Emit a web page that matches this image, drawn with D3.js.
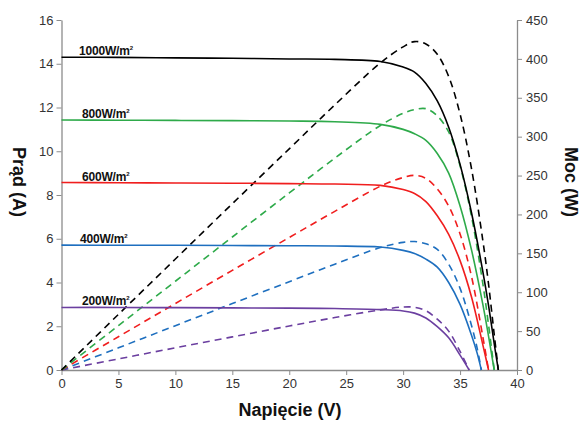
<!DOCTYPE html>
<html>
<head>
<meta charset="utf-8">
<script src="https://cdn.jsdelivr.net/npm/d3@7/dist/d3.min.js"></script>
<style>
  html, body { margin: 0; padding: 0; background: #fff; }
  svg { display: block; font-family: "Liberation Sans", Arial, sans-serif; }
</style>
</head>
<body>
<svg id="chart" width="581" height="422"></svg>
<script>
// ---- data ----
const irradianceLabels = ["1000W/m", "800W/m", "600W/m", "400W/m", "200W/m"];
const seriesColors = ["#000000", "#2eaa4a", "#f01e1e", "#1e6fbf", "#6b3fa0"];

const voltage1000 = [0, 5, 10, 15, 20, 24, 28, 30, 31, 32, 33, 34, 35, 36, 37, 37.5, 38, 38.36];
const current1000 = [14.3, 14.29, 14.27, 14.25, 14.22, 14.2, 14.1, 13.85, 13.62, 13.1, 12.3, 11.1, 9.4, 7.2, 4.5, 2.95, 1.2, 0];
const power1000   = [0, 71.5, 142.7, 213.8, 284.4, 340.8, 394.8, 415.5, 422.2, 419.2, 405.9, 377.4, 329, 259.2, 166.5, 110.6, 45.6, 0];

const voltage800 = [0, 5, 10, 15, 20, 24, 28, 30, 31, 32, 33, 34, 35, 36, 37, 37.5, 38];
const current800 = [11.43, 11.42, 11.41, 11.4, 11.38, 11.35, 11.23, 11.0, 10.8, 10.5, 9.9, 9.0, 7.5, 5.5, 3.0, 1.55, 0];
const power800   = [0, 57.1, 114.1, 171, 227.6, 272.4, 314.4, 330, 334.8, 336, 326.7, 306, 262.5, 198, 111, 58.1, 0];

const voltage600 = [0, 5, 10, 15, 20, 24, 28, 30, 31, 32, 33, 34, 35, 36, 37, 37.5];
const current600 = [8.57, 8.56, 8.55, 8.54, 8.52, 8.5, 8.44, 8.25, 8.07, 7.7, 7.05, 6.2, 5.0, 3.35, 1.15, 0];
const power600   = [0, 42.8, 85.5, 128.1, 170.4, 204, 236.3, 247.5, 250.2, 246.4, 232.7, 210.8, 175, 120.6, 42.6, 0];

const voltage400 = [0, 5, 10, 15, 20, 24, 28, 30, 31, 32, 33, 34, 35, 36, 36.5, 36.87];
const current400 = [5.71, 5.7, 5.7, 5.69, 5.68, 5.67, 5.62, 5.47, 5.33, 5.07, 4.7, 4.0, 3.0, 1.6, 0.77, 0];
const power400   = [0, 28.5, 57, 85.4, 113.6, 136.1, 157.4, 164.1, 165.2, 162.2, 155.1, 136, 105, 57.6, 28.1, 0];

const voltage200 = [0, 5, 10, 15, 20, 24, 28, 30, 31, 32, 33, 34, 35, 35.8];
const current200 = [2.86, 2.86, 2.85, 2.84, 2.83, 2.81, 2.76, 2.7, 2.6, 2.38, 1.98, 1.47, 0.68, 0];
const power200   = [0, 14.3, 28.5, 42.6, 56.6, 67.4, 77.3, 81, 80.6, 76.2, 65.3, 50, 23.8, 0];

const voltageTicks = [0, 5, 10, 15, 20, 25, 30, 35, 40];
const currentTicks = [0, 2, 4, 6, 8, 10, 12, 14, 16];
const powerTicks = [0, 50, 100, 150, 200, 250, 300, 350, 400, 450];

const xTitle = "Napięcie (V)";
const yLeftTitle = "Prąd (A)";
const yRightTitle = "Moc (W)";

// ---- build ----
const voltages = [voltage1000, voltage800, voltage600, voltage400, voltage200];
const currents = [current1000, current800, current600, current400, current200];
const powers = [power1000, power800, power600, power400, power200];

const svg = d3.select("#chart");
const x = d3.scaleLinear().domain([0, 40]).range([61.5, 517]);
const yI = d3.scaleLinear().domain([0, 16]).range([370, 20]);
const yP = d3.scaleLinear().domain([0, 450]).range([370, 20]);

const axisColor = "#8c8c8c";
const tickTextColor = "#333";

function styleAxis(g) {
  g.selectAll("path.domain").attr("stroke", axisColor).attr("stroke-width", 1.3);
  g.selectAll(".tick line").attr("stroke", axisColor).attr("stroke-width", 1);
  g.selectAll(".tick text").attr("fill", tickTextColor)
    .style("font-family", "'Liberation Sans', Arial, sans-serif").style("font-size", "13px");
}

const gx = svg.append("g").attr("transform", "translate(0,370)")
  .call(d3.axisBottom(x).tickValues(voltageTicks).tickSize(5).tickSizeOuter(0).tickPadding(4));
styleAxis(gx);

const gl = svg.append("g").attr("transform", "translate(61.5,0)")
  .call(d3.axisLeft(yI).tickValues(currentTicks).tickSize(5).tickSizeOuter(0).tickPadding(3));
styleAxis(gl);

const gr = svg.append("g").attr("transform", "translate(517,0)")
  .call(d3.axisRight(yP).tickValues(powerTicks).tickSize(5).tickSizeOuter(0).tickPadding(4));
styleAxis(gr);

// series
const lineI = d3.line().x(d => x(d[0])).y(d => yI(d[1])).curve(d3.curveCatmullRom.alpha(0.5));
const lineP = d3.line().x(d => x(d[0])).y(d => yP(d[1])).curve(d3.curveCatmullRom.alpha(0.5));

const plot = svg.append("g");
for (let s = 4; s >= 0; s--) {
  const ptsP = voltages[s].map((v, i) => [v, powers[s][i]]);
  plot.append("path").attr("d", lineP(ptsP)).attr("fill", "none")
    .attr("stroke", seriesColors[s]).attr("stroke-width", 1.6)
    .attr("stroke-dasharray", "7,5");
}
for (let s = 4; s >= 0; s--) {
  const ptsI = voltages[s].map((v, i) => [v, currents[s][i]]);
  plot.append("path").attr("d", lineI(ptsI)).attr("fill", "none")
    .attr("stroke", seriesColors[s]).attr("stroke-width", 1.6);
}

// irradiance labels
const labelX = [79, 82, 82, 80, 82];
irradianceLabels.forEach((lab, s) => {
  const t = svg.append("text")
    .attr("x", labelX[s]).attr("y", yI(currents[s][0]) - 2)
    .attr("fill", "#111").style("font-weight", "bold").style("font-size", "12px")
    .style("letter-spacing", "-0.2px")
    .text(lab);
  t.append("tspan").attr("dy", -5).style("font-size", "6px").text("2");
});

// axis titles
svg.append("text").attr("x", 290).attr("y", 416).attr("text-anchor", "middle")
  .style("font-weight", "bold").style("font-size", "18px").attr("fill", "#111").text(xTitle);
svg.append("text").attr("transform", "translate(13,182) rotate(90)").attr("text-anchor", "middle")
  .style("font-weight", "bold").style("font-size", "18px").attr("fill", "#111").text(yLeftTitle);
svg.append("text").attr("transform", "translate(565,182) rotate(90)").attr("text-anchor", "middle")
  .style("font-weight", "bold").style("font-size", "18px").attr("fill", "#111").text(yRightTitle);
</script>
</body>
</html>
